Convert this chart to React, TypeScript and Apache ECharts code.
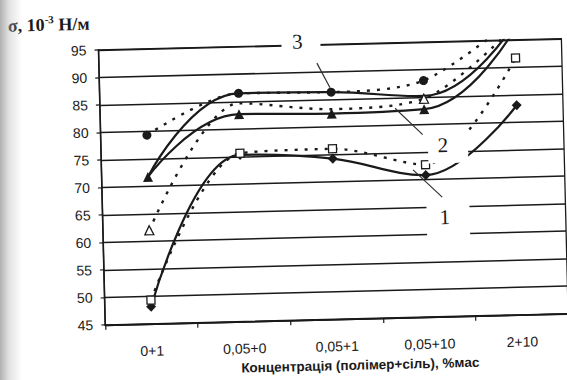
import React, { useEffect, useRef } from 'react';
import * as echarts from 'echarts';

// ---- data ----
const categories = ['0+1', '0,05+0', '0,05+1', '0,05+10', '2+10'];
const yMin = 45;
const yMax = 95;
const yStep = 5;

// dotted, filled circles
const seriesCircles = [79.3, 86.5, 86.3, 88.0, 99];
// solid curve "3"
const curve3 = [71.7, 86.5, 86.3, 85.2, 98];
// dotted, open triangles
const seriesOpenTriangles = [62, 84.7, 83.2, 84.7, 97.5];
const openTriangleMarkerShown = [true, false, false, true, false];
// solid curve "2", filled triangles
const curve2 = [71.7, 82.7, 82.4, 82.8, 97];
// dotted, open squares
const seriesOpenSquares = [49.3, 75.6, 76.0, 72.7, 91.7];
// solid curve "1", filled diamonds
const curve1 = [48.1, 75.3, 74.2, 70.8, 83.1];

const xAxisTitle = 'Концентрація (полімер+сіль), %мас';
const yTitleMain = 'σ, 10';
const yTitleSup = '-3';
const yTitleUnit = ' Н/м';
const curveNames = ['1', '2', '3'];

const INK = '#1a1a1a';

export default function App() {
  const ref = useRef<HTMLDivElement>(null);

  useEffect(() => {
    if (!ref.current) return;
    const chart = echarts.init(ref.current, null, { renderer: 'svg' });

    const dotted = { type: [3, 7], width: 2.4, color: INK, cap: 'butt' };
    const solid = { type: 'solid', width: 2.2, color: INK };

    const labelBox = (x: number, y: number, w: number, h: number) => ({
      type: 'rect',
      z: 100,
      shape: { x, y, width: w, height: h },
      style: { fill: '#ffffff' },
    });
    const labelText = (t: string, x: number, y: number) => ({
      type: 'text',
      z: 101,
      x,
      y,
      style: {
        text: t,
        font: '21px "Liberation Serif"',
        fill: INK,
        align: 'center',
        verticalAlign: 'middle',
      },
    });
    const leader = (x1: number, y1: number, x2: number, y2: number) => ({
      type: 'line',
      z: 101,
      shape: { x1, y1, x2, y2 },
      style: { stroke: '#333', lineWidth: 1.2 },
    });

    chart.setOption({
      animation: false,
      backgroundColor: '#ffffff',
      grid: {
        left: 102,
        right: 2,
        top: 45.5,
        bottom: 59.5,
        show: true,
        borderColor: INK,
        borderWidth: 1.3,
      },
      xAxis: {
        type: 'category',
        data: categories,
        boundaryGap: true,
        axisLine: { lineStyle: { color: INK, width: 1.6 } },
        axisTick: { show: true, length: 5, lineStyle: { color: INK, width: 1.2 } },
        axisLabel: {
          color: INK,
          fontFamily: '"Liberation Sans", Arial',
          fontSize: 14,
          margin: 20,
        },
        splitLine: { show: false },
      },
      yAxis: {
        type: 'value',
        min: yMin,
        max: yMax,
        interval: yStep,
        axisLine: { show: true, lineStyle: { color: INK, width: 1.6 } },
        axisTick: { show: true, length: 4, lineStyle: { color: INK, width: 1.2 } },
        axisLabel: {
          color: INK,
          fontFamily: '"Liberation Sans", Arial',
          fontSize: 14,
          margin: 12,
        },
        splitLine: { show: true, lineStyle: { color: INK, width: 1.5 } },
      },
      series: [
        {
          name: 'circles',
          type: 'line',
          data: seriesCircles,
          smooth: 0.3,
          showAllSymbol: true,
          symbol: 'circle',
          symbolSize: 9,
          itemStyle: { color: INK },
          lineStyle: dotted,
          z: 4,
        },
        {
          name: 'curve3',
          type: 'line',
          data: curve3,
          smooth: 0.45,
          symbol: 'none',
          lineStyle: solid,
          z: 3,
        },
        {
          name: 'openTriangles',
          type: 'line',
          data: seriesOpenTriangles.map((v, i) => ({
            value: v,
            symbol: openTriangleMarkerShown[i] ? 'triangle' : 'none',
          })),
          smooth: 0.3,
          showAllSymbol: true,
          symbol: 'triangle',
          symbolSize: 9,
          itemStyle: { color: '#ffffff', borderColor: INK, borderWidth: 1.3 },
          lineStyle: dotted,
          z: 4,
        },
        {
          name: 'curve2',
          type: 'line',
          data: curve2,
          smooth: 0.45,
          showAllSymbol: true,
          symbol: 'triangle',
          symbolSize: 10,
          itemStyle: { color: INK },
          lineStyle: solid,
          z: 3,
        },
        {
          name: 'openSquares',
          type: 'line',
          data: seriesOpenSquares,
          smooth: 0.3,
          showAllSymbol: true,
          symbol: 'rect',
          symbolSize: 8,
          itemStyle: { color: '#ffffff', borderColor: INK, borderWidth: 1.3 },
          lineStyle: dotted,
          z: 4,
        },
        {
          name: 'curve1',
          type: 'line',
          data: curve1,
          smooth: 0.38,
          showAllSymbol: true,
          symbol: 'diamond',
          symbolSize: 10,
          itemStyle: { color: INK },
          lineStyle: solid,
          z: 3,
        },
      ],
      graphic: [
        {
          type: 'text',
          z: 100,
          x: 12,
          y: 19,
          style: {
            text: '{a|' + yTitleMain + '}{b|' + yTitleSup + '}{a|' + yTitleUnit + '}',
            verticalAlign: 'middle',
            rich: {
              a: { font: 'bold 18px "Liberation Serif"', fill: INK, lineHeight: 22 },
              b: { font: 'bold 11px "Liberation Serif"', fill: INK, lineHeight: 12, verticalAlign: 'top' },
            },
          },
        },
        {
          type: 'text',
          z: 100,
          x: 356,
          y: 367,
          style: {
            text: xAxisTitle,
            font: 'bold 13.5px "Liberation Sans", Arial',
            fill: INK,
            align: 'center',
            verticalAlign: 'middle',
          },
        },
        // label "3"
        labelBox(285, 29, 39, 28),
        labelText(curveNames[2], 301, 42),
        leader(320, 64, 332.5, 89),
        // label "2"
        labelBox(429, 135, 40, 32),
        labelText(curveNames[1], 444, 149),
        leader(397, 111, 424, 138),
        // label "1"
        labelBox(426, 200, 43, 44),
        labelText(curveNames[0], 444, 221),
        leader(413.5, 173, 442, 201),
      ],
    });

    return () => chart.dispose();
  }, []);

  return (
    <div
      style={{
        position: 'fixed',
        left: 0,
        top: 0,
        width: 567,
        height: 380,
        overflow: 'hidden',
        background: '#ffffff',
      }}
    >
      <div
        ref={ref}
        style={{
          position: 'absolute',
          left: 0,
          top: 0,
          width: 567,
          height: 380,
          transform: 'rotate(-1.4deg)',
          transformOrigin: '283px 190px',
        }}
      />
      <div
        style={{
          position: 'absolute',
          left: 0,
          top: 0,
          width: 22,
          height: 380,
          pointerEvents: 'none',
          background:
            'linear-gradient(to right, rgba(150,150,150,0.75) 0px, rgba(190,190,190,0.45) 9px, rgba(255,255,255,0) 22px)',
        }}
      />
    </div>
  );
}
